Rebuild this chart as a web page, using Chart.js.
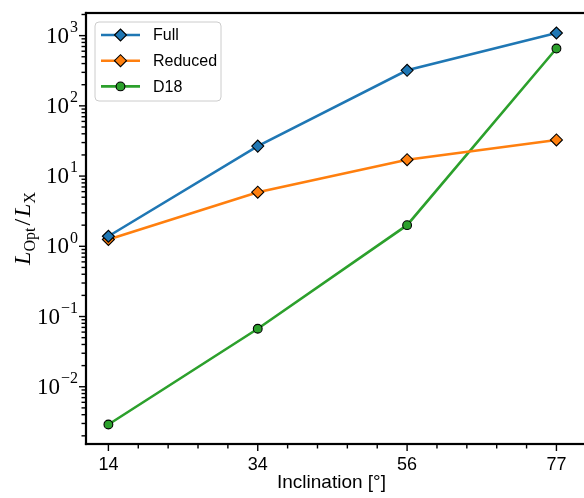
<!DOCTYPE html>
<html>
<head>
<meta charset="utf-8">
<script src="https://cdn.jsdelivr.net/npm/chart.js@4"></script>
<style>
  html, body { margin: 0; padding: 0; background: #fff; }
  canvas { display: block; }
</style>
</head>
<body>
<canvas id="ratioChart" width="584" height="498"></canvas>
<script>
// inclination angles (deg) and optical / X-ray luminosity ratios
const inclinations = ["14", "34", "56", "77"];
const fullModel = [1.39, 26.7, 321, 1090];
const reducedModel = [1.25, 5.9, 17.1, 32.7];
const d18Model = [0.0029, 0.067, 2.0, 655];

const yMin = 0.00153;
const yMax = 2100;

const toPoints = vals => vals.map((v, i) => ({ x: i, y: v }));

// tick positions: x every fifth of a step, y at 1..9 x 10^n
const xTicks = [];
for (let k = 0; k <= 15; k++) xTicks.push({ value: k / 5, major: k % 5 === 0 });
const yTicks = [];
for (let e = -3; e <= 3; e++) {
    for (let m = 1; m <= 9; m++) {
        const v = m * Math.pow(10, e);
        if (v >= yMin && v <= yMax) yTicks.push({ value: v, major: m === 1, exp: e });
    }
}

function superscript(ctx, base, exp, xRight, y) {
    ctx.font = "23px 'Liberation Serif'";
    const wb = ctx.measureText(base).width;
    ctx.font = "16px 'Liberation Serif'";
    const we = ctx.measureText(exp).width;
    const x0 = xRight - wb - we - 1;
    ctx.textBaseline = "middle";
    ctx.textAlign = "left";
    ctx.font = "23px 'Liberation Serif'";
    ctx.fillText(base, x0, y + 1);
    ctx.font = "16px 'Liberation Serif'";
    ctx.fillText(exp, x0 + wb + 1, y - 8);
}

// spines, tick marks, y labels and the y-axis title
const axesFrame = {
    id: "axesFrame",
    afterDraw(chart) {
        const { ctx, chartArea: a } = chart;
        const xs = chart.scales.x, ys = chart.scales.y;
        ctx.save();
        ctx.fillStyle = "#000";

        // left, bottom and top spines
        const sw = 2.2;
        ctx.fillRect(a.left - sw / 2, a.top - sw / 2, sw, a.bottom - a.top + sw);
        ctx.fillRect(a.left - sw / 2, a.bottom - sw / 2, chart.width, sw);
        ctx.fillRect(a.left - sw / 2, a.top - sw / 2, chart.width, sw);

        const tw = 1.4;
        xTicks.forEach(t => {
            const px = xs.getPixelForValue(t.value);
            if (px > chart.width) return;
            const len = t.major ? 7 : 4.5;
            ctx.fillRect(px - tw / 2, a.bottom, tw, len);
        });
        yTicks.forEach(t => {
            const py = ys.getPixelForValue(t.value);
            const len = t.major ? 7 : 4.5;
            ctx.fillRect(a.left - len, py - tw / 2, len, tw);
            if (t.major) {
                superscript(ctx, "10", t.exp < 0 ? "\u2212" + (-t.exp) : String(t.exp), a.left - 8, py);
            }
        });

        // L_Opt / L_X
        ctx.translate(22, (a.top + a.bottom) / 2);
        ctx.rotate(-Math.PI / 2);
        const parts = [
            { t: "L", f: "italic 24px 'Liberation Serif'", dy: 0, pad: 0 },
            { t: "Opt", f: "16px 'Liberation Serif'", dy: 5, pad: 0 },
            { t: "/", f: "24px 'Liberation Serif'", dy: 0, pad: 2 },
            { t: "L", f: "italic 24px 'Liberation Serif'", dy: 0, pad: 0 },
            { t: "X", f: "16px 'Liberation Serif'", dy: 5, pad: 0 }
        ];
        let total = 0;
        parts.forEach(p => {
            ctx.font = p.f;
            p.w = ctx.measureText(p.t).width + 2 * p.pad;
            total += p.w;
        });
        let x = -total / 2;
        ctx.textBaseline = "alphabetic";
        ctx.textAlign = "left";
        parts.forEach(p => {
            ctx.font = p.f;
            ctx.fillText(p.t, x + p.pad, 8 + p.dy);
            x += p.w;
        });
        ctx.restore();
    }
};

// legend box in the upper-left corner: line + marker + label
const insetLegend = {
    id: "insetLegend",
    afterDraw(chart) {
        const { ctx, chartArea: a } = chart;
        const bx = a.left + 9, by = a.top + 9, bw = 126, bh = 79;
        ctx.save();
        ctx.beginPath();
        ctx.roundRect(bx, by, bw, bh, 4);
        ctx.fillStyle = "rgba(255,255,255,0.8)";
        ctx.fill();
        ctx.strokeStyle = "#cccccc";
        ctx.lineWidth = 1;
        ctx.stroke();

        chart.data.datasets.forEach((ds, i) => {
            const ry = by + 13 + i * 25.7;
            ctx.strokeStyle = ds.borderColor;
            ctx.lineWidth = ds.borderWidth;
            ctx.beginPath();
            ctx.moveTo(bx + 6, ry);
            ctx.lineTo(bx + 45, ry);
            ctx.stroke();
            ctx.fillStyle = ds.pointBackgroundColor;
            ctx.strokeStyle = ds.pointBorderColor;
            ctx.lineWidth = ds.pointBorderWidth;
            Chart.helpers.drawPoint(ctx, {
                pointStyle: ds.pointStyle,
                radius: ds.pointRadius,
                rotation: 0,
                borderWidth: ds.pointBorderWidth
            }, bx + 25.5, ry);
            ctx.fillStyle = "#000";
            ctx.font = "16px 'Liberation Sans'";
            ctx.textBaseline = "middle";
            ctx.textAlign = "left";
            ctx.fillText(ds.label, bx + 58, ry + 1);
        });
        ctx.restore();
    }
};

const series = (label, vals, color, style, r) => ({
    label: label,
    data: toPoints(vals),
    borderColor: color,
    borderWidth: 2.6,
    pointStyle: style,
    pointRadius: r,
    pointHoverRadius: r,
    pointBackgroundColor: color,
    pointBorderColor: "#000",
    pointBorderWidth: 1.1,
    tension: 0,
    clip: false
});

new Chart(document.getElementById("ratioChart"), {
    type: "line",
    data: {
        datasets: [
            series("Full", fullModel, "#1f77b4", "rectRot", 6),
            series("Reduced", reducedModel, "#ff7f0e", "rectRot", 6),
            series("D18", d18Model, "#2ca02c", "circle", 4.4)
        ]
    },
    options: {
        responsive: false,
        animation: false,
        layout: { padding: { top: 13, left: 0, right: 0, bottom: 0 } },
        plugins: {
            legend: { display: false },
            tooltip: { enabled: false }
        },
        scales: {
            x: {
                type: "linear",
                min: -0.15,
                max: 3.137,
                grid: { display: false },
                border: { display: false },
                afterBuildTicks: scale => {
                    scale.ticks = inclinations.map((_, i) => ({ value: i }));
                },
                afterFit: scale => { scale.height = 54; },
                ticks: {
                    autoSkip: false,
                    maxRotation: 0,
                    padding: 2,
                    color: "#000",
                    font: { family: "Liberation Sans", size: 18 },
                    callback: v => inclinations[Math.round(v)]
                },
                title: {
                    display: true,
                    text: "Inclination [°]",
                    color: "#000",
                    font: { family: "Liberation Sans", size: 19 },
                    padding: { top: 0, bottom: 4 }
                }
            },
            y: {
                type: "logarithmic",
                min: yMin,
                max: yMax,
                grid: { display: false },
                border: { display: false },
                ticks: { display: false },
                afterFit: scale => { scale.width = 86; }
            }
        }
    },
    plugins: [axesFrame, insetLegend]
});
</script>
</body>
</html>
